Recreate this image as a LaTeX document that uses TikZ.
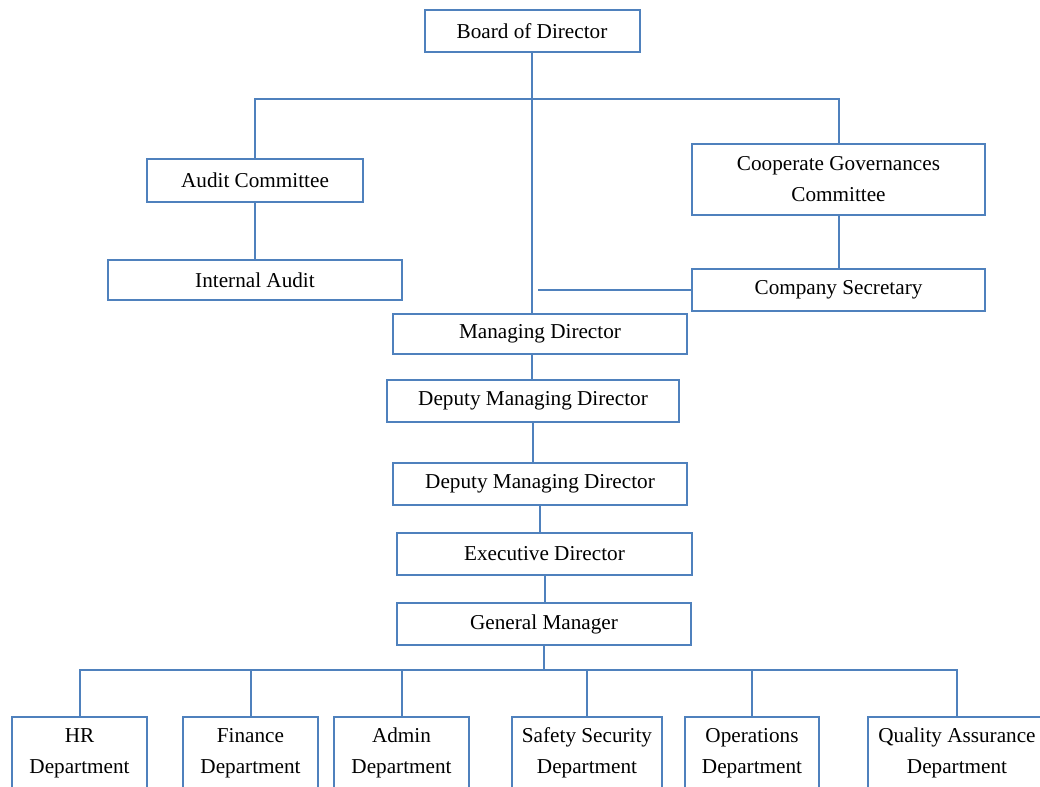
\documentclass[tikz,border=0pt]{standalone}
\usepackage{fontspec}
\setmainfont{Liberation Serif}
\usepackage{xcolor}
\usepackage{tikz}
\usetikzlibrary{positioning, calc}

\definecolor{orgblue}{HTML}{4F81BD}

\tikzset{
  orgbox/.style={draw=orgblue, line width=1pt, inner sep=0pt, align=center,
    font=\fontsize{10.6}{15.5}\selectfont},
  orgline/.style={draw=orgblue, line width=1pt},
}

\begin{document}
\begin{tikzpicture}[x=0.5pt, y=-0.5pt]
  \useasboundingbox (0,0) rectangle (1040,787);
  \clip (0,0) rectangle (1040,787);

  % Board and committees
  \node[orgbox, minimum width=107.5pt, minimum height=21pt] (board) at (532,31) {Board of Director};
  \node[orgbox, minimum width=108pt, minimum height=21.5pt] (audit) at (255,180) {Audit Committee};
  \node[orgbox, minimum width=147pt, minimum height=20pt] (internal) at (255,280) {Internal Audit};
  \node[orgbox, minimum width=146.5pt, minimum height=35.5pt] (cgc) at (838.5,179.5) {Cooperate Governances\\Committee};
  \node[orgbox, minimum width=146.5pt, minimum height=21pt] (cosec) at (838.5,290) {Company Secretary};

  % Management chain
  \node[orgbox, minimum width=147pt, minimum height=20pt] (md) at (540,334) {Managing Director};
  \node[orgbox, minimum width=146pt, minimum height=21pt] (dmdone) at (533,401) {Deputy Managing Director};
  \node[orgbox, minimum width=147pt, minimum height=21pt] (dmdtwo) at (540,484) {Deputy Managing Director};
  \node[orgbox, minimum width=147.5pt, minimum height=21pt] (exec) at (544.5,554) {Executive Director};
  \node[orgbox, minimum width=147pt, minimum height=21pt] (gm) at (544,624) {General Manager};

  % Departments
  \foreach \nm/\cx/\bw/\txt in {hr/79.5/67.5/{HR\\Department},
      fin/250.5/67.5/{Finance\\Department},
      admin/401.5/67.5/{Admin\\Department},
      safety/587/75/{Safety Security\\Department},
      ops/752/67/{Operations\\Department},
      qa/957/89/{Quality Assurance\\Department}} {
    \node[orgbox, minimum width=\bw pt, minimum height=36pt] (\nm) at (\cx,753) {\txt};
  }

  % Connectors
  \coordinate (topbus) at (532,99);
  \coordinate (secend) at (538,290);
  \coordinate (botbus) at (537,670);
  \draw[orgline] (board.south) -- (board.south |- md.north);
  \draw[orgline] (audit.north) |- (topbus) -| (cgc.north);
  \draw[orgline] (audit.south) -- (internal.north);
  \draw[orgline] (cgc.south) -- (cosec.north);
  \draw[orgline] (cosec.west) -- (cosec.west -| secend);
  \draw[orgline] (board.south |- md.south) -- (board.south |- dmdone.north);
  \draw[orgline] (dmdone.south) -- (dmdone.south |- dmdtwo.north);
  \draw[orgline] (dmdtwo.south) -- (dmdtwo.south |- exec.north);
  \draw[orgline] (gm.north -| exec.south) -- (exec.south);
  \draw[orgline] (gm.south) -- (gm.south |- botbus);
  \draw[orgline] (hr.north) |- (botbus) -| (qa.north);
  \foreach \nm in {fin, admin, safety, ops} {
    \draw[orgline] (\nm.north) -- (\nm.north |- botbus);
  }
\end{tikzpicture}
\end{document}
